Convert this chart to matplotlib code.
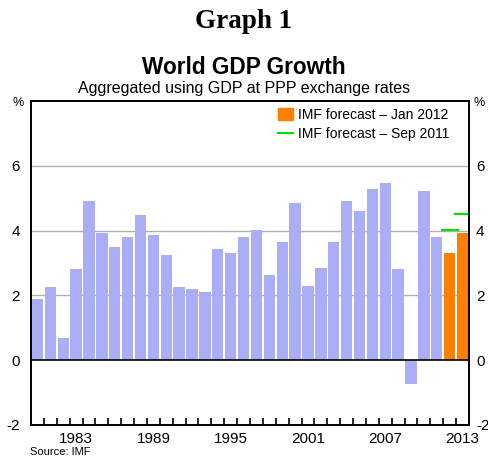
import matplotlib
matplotlib.use("Agg")
import matplotlib.pyplot as plt
import numpy as np
from matplotlib.patches import Patch
from matplotlib.lines import Line2D

years = list(range(1980, 2014))
growth = [1.9, 2.25, 0.7, 2.8, 4.9, 3.93, 3.48, 3.81, 4.47, 3.85, 3.25,
          2.25, 2.19, 2.12, 3.44, 3.31, 3.8, 4.02, 2.63, 3.66, 4.85,
          2.3, 2.86, 3.66, 4.9, 4.59, 5.28, 5.46, 2.8, -0.72, 5.21, 3.79,
          3.3, 3.92]
forecast_years = [2012, 2013]
sep2011_years = [2012, 2013]
sep2011_values = [4.02, 4.52]
label_years = [1983, 1989, 1995, 2001, 2007, 2013]
yticks = [-2, 0, 2, 4, 6]

hist_color = "#A9AEF6"
fc_color = "#FF7F00"
green = "#00E000"

plt.rcParams['font.family'] = ['Liberation Sans', 'DejaVu Sans']
plt.rcParams['axes.unicode_minus'] = False
fig = plt.figure(figsize=(4.88, 4.57), dpi=100)
ax = fig.add_axes([31/488, 1-425/457, (469-31)/488, (425-101)/457])

colors = [fc_color if y in forecast_years else hist_color for y in years]
ax.bar(years, growth, width=0.88, color=colors, zorder=2)
for y, v in zip(sep2011_years, sep2011_values):
    ax.hlines(v, y - 0.7, y + 0.7, color=green, lw=1.5, zorder=3)

ax.set_xlim(1979.5, 2013.5)
ax.set_ylim(-2, 8)
for g in [2, 4, 6]:
    ax.axhline(g, color="#B0B0B0", lw=1.0, zorder=1)
ax.axhline(0, color="black", lw=1.2, zorder=4)

ax.set_yticks(yticks)
ax.set_yticklabels([str(t) for t in yticks])
ax.tick_params(axis='y', length=0, labelsize=11, pad=8)

axr = ax.twinx()
axr.set_ylim(-2, 8)
axr.set_yticks(yticks)
axr.set_yticklabels([str(t) for t in yticks])
axr.tick_params(axis='y', length=0, labelsize=11, pad=5)

ax.set_xticks([y + 0.5 for y in years[:-1]], minor=True)
ax.set_xticks(label_years)
ax.set_xticklabels([str(y) for y in label_years])
ax.tick_params(axis='x', which='major', length=0, labelsize=11, pad=5)
ax.tick_params(axis='x', which='minor', direction='in', length=5, width=1.2)
for a in (ax, axr):
    for s in a.spines.values():
        s.set_linewidth(1.2)

fig.text(18/488, 1-103/457, "%", fontsize=9, ha='center', va='center')
fig.text(479/488, 1-103/457, "%", fontsize=9, ha='center', va='center')

handles = [Patch(color=fc_color), Line2D([], [], color=green, lw=1.5)]
leg = ax.legend(handles, ["IMF forecast \u2013 Jan 2012", "IMF forecast \u2013 Sep 2011"],
                loc='upper right', frameon=False, fontsize=10, handlelength=1.1,
                handleheight=0.9, handletextpad=0.3, borderaxespad=0.1,
                labelspacing=0.35, bbox_to_anchor=(0.97, 1.0))

fig.text(0.5, 1-22/457, "Graph 1", fontsize=19.5, fontweight='bold',
         family=['Liberation Serif'], ha='center', va='center')
fig.text(0.5, 1-67/457, "World GDP Growth", fontsize=16.3, fontweight='bold',
         ha='center', va='center')
fig.text(0.5, 1-88/457, "Aggregated using GDP at PPP exchange rates", fontsize=11.5,
         ha='center', va='center')
fig.text(30/488, 1-452/457, "Source: IMF", fontsize=8, ha='left', va='center')

fig.savefig("out.png", dpi=100)
